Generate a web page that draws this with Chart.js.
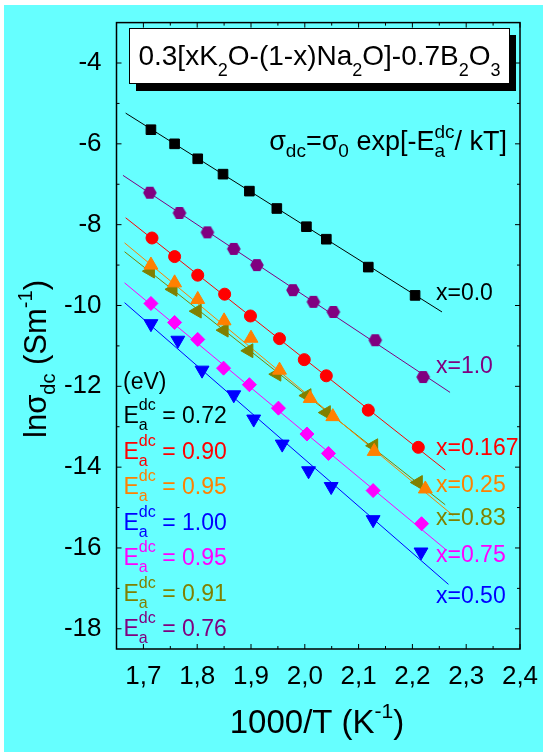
<!DOCTYPE html>
<html>
<head>
<meta charset="utf-8">
<script src="https://cdn.jsdelivr.net/npm/chart.js@4/dist/chart.umd.min.js"></script>
<style>
  html, body { margin: 0; padding: 0; background: #ffffff; }
  canvas { display: block; }
</style>
</head>
<body>
<canvas id="arrheniusChart" width="543" height="752"></canvas>
<script>
// values: 1000/T (K^-1) vs ln(sigma_dc)
const invT_00 = [1.714, 1.758, 1.801, 1.848, 1.897, 1.948, 2.003, 2.040, 2.118, 2.205];
const lnS_00 = [-5.65, -6.00, -6.37, -6.75, -7.17, -7.60, -8.05, -8.36, -9.05, -9.75];
const fitX_00 = [1.667, 2.255];
const fitY_00 = [-5.24, -10.16];

const invT_10 = [1.712, 1.767, 1.819, 1.868, 1.911, 1.978, 2.016, 2.053, 2.131, 2.220];
const lnS_10 = [-7.21, -7.71, -8.19, -8.60, -9.00, -9.62, -9.91, -10.16, -10.86, -11.77];
const fitX_10 = [1.662, 2.270];
const fitY_10 = [-6.78, -12.15];

const invT_0167 = [1.716, 1.758, 1.801, 1.851, 1.899, 1.953, 1.999, 2.040, 2.118, 2.211];
const lnS_0167 = [-8.33, -8.79, -9.25, -9.72, -10.26, -10.82, -11.34, -11.74, -12.59, -13.51];
const fitX_0167 = [1.667, 2.261];
const fitY_0167 = [-7.83, -14.07];

const invT_025 = [1.714, 1.758, 1.801, 1.850, 1.900, 1.953, 2.010, 2.052, 2.129, 2.224];
const lnS_025 = [-9.00, -9.44, -9.85, -10.38, -10.81, -11.60, -12.30, -12.75, -13.61, -14.54];
const fitX_025 = [1.665, 2.276];
const fitY_025 = [-8.45, -15.20];

const invT_083 = [1.713, 1.755, 1.800, 1.850, 1.896, 1.948, 2.004, 2.040, 2.128, 2.211];
const lnS_083 = [-9.15, -9.60, -10.14, -10.61, -11.12, -11.70, -12.23, -12.65, -13.47, -14.38];
const fitX_083 = [1.665, 2.261];
const fitY_083 = [-8.67, -14.93];

const invT_075 = [1.714, 1.758, 1.801, 1.849, 1.897, 1.951, 2.004, 2.044, 2.127, 2.217];
const lnS_075 = [-9.95, -10.42, -10.84, -11.55, -11.96, -12.54, -13.18, -13.66, -14.58, -15.40];
const fitX_075 = [1.665, 2.264];
const fitY_075 = [-9.44, -16.06];

const invT_050 = [1.714, 1.764, 1.809, 1.868, 1.905, 1.958, 2.007, 2.049, 2.127, 2.216];
const lnS_050 = [-10.45, -10.86, -11.60, -12.21, -12.81, -13.43, -14.09, -14.48, -15.30, -16.10];
const fitX_050 = [1.665, 2.267];
const fitY_050 = [-9.93, -16.90];

const seriesNames = ['x=0.0', 'x=1.0', 'x=0.167', 'x=0.25', 'x=0.83', 'x=0.75', 'x=0.50'];
const eaValues = ['0.72', '0.90', '0.95', '1.00', '0.95', '0.91', '0.76'];

const xTicks = [1.7, 1.8, 1.9, 2.0, 2.1, 2.2, 2.3, 2.4];
const xMinor = [1.75, 1.85, 1.95, 2.05, 2.15, 2.25, 2.35];
const yTicks = [-4, -6, -8, -10, -12, -14, -16, -18];
const yMinor = [-5, -7, -9, -11, -13, -15, -17];

const FONT = "'Liberation Sans', Arial, sans-serif";

const BLACK = '#000000', PURPLE = '#800080', RED = '#ff0000', ORANGE = '#ff8000',
      OLIVE = '#808000', MAGENTA = '#ff00ff', BLUE = '#0000ff';

// hexagon marker, chart.js has none
function hexagon(color, r) {
    const c = document.createElement('canvas');
    const s = Math.ceil(2 * r + 2);
    c.width = s; c.height = s;
    const g = c.getContext('2d');
    g.fillStyle = color;
    g.beginPath();
    for (let i = 0; i < 6; i++) {
        const a = i * Math.PI / 3;
        const px = s / 2 + r * Math.cos(a), py = s / 2 + r * Math.sin(a);
        if (i === 0) g.moveTo(px, py); else g.lineTo(px, py);
    }
    g.closePath();
    g.fill();
    return c;
}

const xs = [invT_00, invT_10, invT_0167, invT_025, invT_083, invT_075, invT_050];
const ys = [lnS_00, lnS_10, lnS_0167, lnS_025, lnS_083, lnS_075, lnS_050];
const fxs = [fitX_00, fitX_10, fitX_0167, fitX_025, fitX_083, fitX_075, fitX_050];
const fys = [fitY_00, fitY_10, fitY_0167, fitY_025, fitY_083, fitY_075, fitY_050];
const colors = [BLACK, PURPLE, RED, ORANGE, OLIVE, MAGENTA, BLUE];
const markers = ['rect', hexagon(PURPLE, 6.8), 'circle', 'triangle', 'triangle', 'rectRot', 'triangle'];
const rotations = [0, 0, 0, 0, -90, 0, 180];
const radii = [6.8, 6.8, 6, 8, 8, 7, 8];

const datasets = [];
for (let i = 0; i < xs.length; i++) {
    datasets.push({
        label: seriesNames[i] + ' fit',
        data: fxs[i].map((v, j) => ({x: v, y: fys[i][j]})),
        showLine: true,
        borderColor: colors[i],
        borderWidth: 1,
        pointRadius: 0,
        order: 2
    });
}
for (let i = 0; i < xs.length; i++) {
    datasets.push({
        label: seriesNames[i],
        data: xs[i].map((v, j) => ({x: v, y: ys[i][j]})),
        showLine: false,
        backgroundColor: colors[i],
        borderColor: colors[i],
        borderWidth: 1,
        pointStyle: markers[i],
        rotation: rotations[i],
        pointRadius: radii[i],
        order: 1
    });
}

// text with sub/superscripts. kinds: '' normal, 'sub', 'sup', 'supS' (sup stacked over previous sub)
function rich(ctx, parts, x, y, o) {
    const items = [];
    let cx = 0, prevStart = 0, prevW = 0;
    parts.forEach(([t, k]) => {
        const fs = k ? o.small : o.size;
        ctx.font = fs + 'px ' + FONT;
        const w = ctx.measureText(t).width;
        let start;
        if (k === 'supS') {
            start = prevStart;
            cx += Math.max(0, w - prevW);
        } else {
            start = cx;
            cx += w;
        }
        const dy = k === 'sub' ? o.subShift : (k ? -o.supShift : 0);
        items.push({t, fs, start, dy});
        prevStart = start; prevW = w;
    });
    let x0 = x;
    if (o.align === 'center') x0 = x - cx / 2;
    else if (o.align === 'right') x0 = x - cx;
    ctx.fillStyle = o.color || BLACK;
    ctx.textAlign = 'left';
    ctx.textBaseline = 'alphabetic';
    items.forEach(it => {
        ctx.font = it.fs + 'px ' + FONT;
        ctx.fillText(it.t, x0 + it.start, y + it.dy);
    });
}

const decorPlugin = {
    id: 'decor',
    beforeDraw(chart) {
        const ctx = chart.ctx;
        ctx.save();
        ctx.fillStyle = '#ffffff';
        ctx.fillRect(0, 0, chart.width, chart.height);
        ctx.fillStyle = '#66ffff';
        ctx.fillRect(4, 5, chart.width - 4, chart.height - 5);
        ctx.restore();
    },
    afterDraw(chart) {
        const ctx = chart.ctx;
        const a = chart.chartArea;
        const sx = chart.scales.x, sy = chart.scales.y;
        ctx.save();

        // frame
        ctx.strokeStyle = BLACK;
        ctx.lineWidth = 1.5;
        ctx.strokeRect(a.left, a.top, a.right - a.left, a.bottom - a.top);

        // inward ticks on all four sides
        ctx.lineWidth = 1;
        ctx.beginPath();
        const tx = (vals, len) => vals.forEach(v => {
            const p = sx.getPixelForValue(v);
            ctx.moveTo(p, a.bottom); ctx.lineTo(p, a.bottom - len);
            ctx.moveTo(p, a.top); ctx.lineTo(p, a.top + len);
        });
        const ty = (vals, len) => vals.forEach(v => {
            const p = sy.getPixelForValue(v);
            ctx.moveTo(a.left, p); ctx.lineTo(a.left + len, p);
            ctx.moveTo(a.right, p); ctx.lineTo(a.right - len, p);
        });
        tx(xTicks, 5); tx(xMinor, 3);
        ty(yTicks, 5); ty(yMinor, 3);
        ctx.stroke();

        // title box with drop shadow
        ctx.fillStyle = BLACK;
        ctx.fillRect(136, 35, 380, 56);
        ctx.fillStyle = '#ffffff';
        ctx.fillRect(129.5, 28.5, 380, 55);
        ctx.strokeStyle = BLACK;
        ctx.lineWidth = 1;
        ctx.strokeRect(129.5, 28.5, 380, 55);
        rich(ctx, [['0.3[xK', ''], ['2', 'sub'], ['O-(1-x)Na', ''], ['2', 'sub'],
                   ['O]-0.7B', ''], ['2', 'sub'], ['O', ''], ['3', 'sub']],
             319.5, 65, {size: 28, small: 18, subShift: 11, supShift: 12, align: 'center'});

        // formula
        rich(ctx, [['\u03c3', ''], ['dc', 'sub'], ['=\u03c3', ''], ['0', 'sub'], [' exp[-E', ''],
                   ['a', 'sub'], ['dc', 'supS'], ['/ kT]', '']],
             507, 150, {size: 27, small: 19, subShift: 7, supShift: 12, align: 'right'});

        // series labels at the line ends
        const labelY = [300, 372.5, 455, 491.5, 525, 561.5, 602.5];
        ctx.font = '23px ' + FONT;
        ctx.textAlign = 'left';
        ctx.textBaseline = 'alphabetic';
        seriesNames.forEach((n, i) => {
            ctx.fillStyle = colors[i];
            ctx.fillText(n, 436, labelY[i]);
        });

        // activation energies
        const eaColors = [BLACK, RED, ORANGE, BLUE, MAGENTA, OLIVE, PURPLE];
        ctx.fillStyle = BLACK;
        ctx.font = '23px ' + FONT;
        ctx.fillText('(eV)', 123, 389);
        eaValues.forEach((v, i) => {
            rich(ctx, [['E', ''], ['a', 'sub'], ['dc', 'supS'], [' = ' + v, '']],
                 123.5, 423 + i * 35.5,
                 {size: 23, small: 16, subShift: 7, supShift: 13, align: 'left', color: eaColors[i]});
        });

        // axis titles
        rich(ctx, [['1000/T (K', ''], ['-1', 'sup'], [')', '']],
             317, 733, {size: 33, small: 21, subShift: 9, supShift: 15, align: 'center'});
        ctx.translate(46, 359);
        ctx.rotate(-Math.PI / 2);
        rich(ctx, [['ln\u03c3', ''], ['dc', 'sub'], [' (Sm', ''], ['-1', 'sup'], [')', '']],
             0, 0, {size: 31, small: 20, subShift: 9, supShift: 14, align: 'center'});
        ctx.restore();
    }
};

new Chart(document.getElementById('arrheniusChart').getContext('2d'), {
    type: 'scatter',
    data: { datasets: datasets },
    options: {
        responsive: false,
        animation: false,
        layout: { padding: { top: 22, right: 23, left: 0, bottom: 0 } },
        plugins: {
            legend: { display: false },
            tooltip: { enabled: false }
        },
        scales: {
            x: {
                type: 'linear',
                min: 1.65,
                max: 2.4,
                afterBuildTicks: s => { s.ticks = xTicks.map(v => ({value: v})); },
                afterFit: s => { s.height = 103; },
                grid: { display: false },
                border: { display: false },
                ticks: {
                    color: BLACK,
                    padding: 4,
                    font: { family: FONT, size: 26 },
                    callback: v => v.toFixed(1).replace('.', ',')
                }
            },
            y: {
                type: 'linear',
                min: -18.5,
                max: -3,
                afterBuildTicks: s => { s.ticks = yTicks.map(v => ({value: v})); },
                afterFit: s => { s.width = 116.5; },
                grid: { display: false },
                border: { display: false },
                ticks: {
                    color: BLACK,
                    padding: 7,
                    font: { family: FONT, size: 26 },
                    callback: v => String(v)
                }
            }
        }
    },
    plugins: [decorPlugin]
});
</script>
</body>
</html>
